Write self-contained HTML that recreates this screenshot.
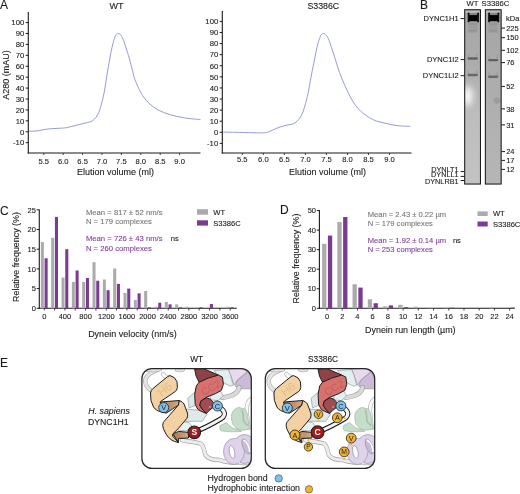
<!DOCTYPE html>
<html><head><meta charset="utf-8"><style>
html,body{margin:0;padding:0;background:#fff;}
svg{display:block;font-family:"Liberation Sans", sans-serif;filter:blur(0.3px);}
text{stroke-width:0.1px;}
</style></head><body>
<svg width="520" height="494" viewBox="0 0 520 494">
<defs><linearGradient id="g1" x1="0" y1="0" x2="0" y2="1">
<stop offset="0" stop-color="#a6a6a6"/><stop offset="0.3" stop-color="#acacac"/><stop offset="0.6" stop-color="#bdbdbd"/><stop offset="1" stop-color="#c3c3c3"/></linearGradient>
<linearGradient id="g2" x1="0" y1="0" x2="0" y2="1">
<stop offset="0" stop-color="#a4a4a4"/><stop offset="0.3" stop-color="#aaaaaa"/><stop offset="0.7" stop-color="#b2b2b2"/><stop offset="1" stop-color="#b6b6b6"/></linearGradient>
<filter id="bl1" x="-50%" y="-50%" width="200%" height="200%"><feGaussianBlur stdDeviation="0.7"/></filter>
<filter id="bl2" x="-80%" y="-80%" width="260%" height="260%"><feGaussianBlur stdDeviation="3.2"/></filter>
<filter id="bl3" x="-50%" y="-50%" width="200%" height="200%"><feGaussianBlur stdDeviation="0.45"/></filter>
<clipPath id="c1"><rect x="464.7" y="9.8" width="15.8" height="174.4"/></clipPath>
<clipPath id="c2"><rect x="485.3" y="9.8" width="15.9" height="174.4"/></clipPath><linearGradient id="hb" x1="0" y1="0" x2="1" y2="0"><stop offset="0" stop-color="#a27655"/><stop offset="1" stop-color="#d9ab82"/></linearGradient><clipPath id="ebox"><rect x="142.0" y="368.7" width="109.2" height="99.6" rx="9.8"/></clipPath></defs>
<rect width="520" height="494" fill="#fff"/>
<text x="0.10" y="8.60" font-size="12" text-anchor="start" fill="#1a1a1a" stroke="#1a1a1a" >A</text>
<line x1="28.30" y1="12.00" x2="28.30" y2="153.50" stroke="#1a1a1a" stroke-width="1.1"/>
<line x1="27.75" y1="153.00" x2="200.50" y2="153.00" stroke="#1a1a1a" stroke-width="1.1"/>
<line x1="25.70" y1="142.66" x2="28.30" y2="142.66" stroke="#1a1a1a" stroke-width="1"/>
<text x="24.20" y="145.41" font-size="7.7" text-anchor="end" fill="#1a1a1a" stroke="#1a1a1a" >-10</text>
<line x1="25.70" y1="131.75" x2="28.30" y2="131.75" stroke="#1a1a1a" stroke-width="1"/>
<text x="24.20" y="134.50" font-size="7.7" text-anchor="end" fill="#1a1a1a" stroke="#1a1a1a" >0</text>
<line x1="25.70" y1="120.84" x2="28.30" y2="120.84" stroke="#1a1a1a" stroke-width="1"/>
<text x="24.20" y="123.59" font-size="7.7" text-anchor="end" fill="#1a1a1a" stroke="#1a1a1a" >10</text>
<line x1="25.70" y1="109.92" x2="28.30" y2="109.92" stroke="#1a1a1a" stroke-width="1"/>
<text x="24.20" y="112.67" font-size="7.7" text-anchor="end" fill="#1a1a1a" stroke="#1a1a1a" >20</text>
<line x1="25.70" y1="99.00" x2="28.30" y2="99.00" stroke="#1a1a1a" stroke-width="1"/>
<text x="24.20" y="101.75" font-size="7.7" text-anchor="end" fill="#1a1a1a" stroke="#1a1a1a" >30</text>
<line x1="25.70" y1="88.09" x2="28.30" y2="88.09" stroke="#1a1a1a" stroke-width="1"/>
<text x="24.20" y="90.84" font-size="7.7" text-anchor="end" fill="#1a1a1a" stroke="#1a1a1a" >40</text>
<line x1="25.70" y1="77.18" x2="28.30" y2="77.18" stroke="#1a1a1a" stroke-width="1"/>
<text x="24.20" y="79.93" font-size="7.7" text-anchor="end" fill="#1a1a1a" stroke="#1a1a1a" >50</text>
<line x1="25.70" y1="66.26" x2="28.30" y2="66.26" stroke="#1a1a1a" stroke-width="1"/>
<text x="24.20" y="69.01" font-size="7.7" text-anchor="end" fill="#1a1a1a" stroke="#1a1a1a" >60</text>
<line x1="25.70" y1="55.34" x2="28.30" y2="55.34" stroke="#1a1a1a" stroke-width="1"/>
<text x="24.20" y="58.09" font-size="7.7" text-anchor="end" fill="#1a1a1a" stroke="#1a1a1a" >70</text>
<line x1="25.70" y1="44.43" x2="28.30" y2="44.43" stroke="#1a1a1a" stroke-width="1"/>
<text x="24.20" y="47.18" font-size="7.7" text-anchor="end" fill="#1a1a1a" stroke="#1a1a1a" >80</text>
<line x1="25.70" y1="33.52" x2="28.30" y2="33.52" stroke="#1a1a1a" stroke-width="1"/>
<text x="24.20" y="36.27" font-size="7.7" text-anchor="end" fill="#1a1a1a" stroke="#1a1a1a" >90</text>
<line x1="25.70" y1="22.60" x2="28.30" y2="22.60" stroke="#1a1a1a" stroke-width="1"/>
<text x="24.20" y="25.35" font-size="7.7" text-anchor="end" fill="#1a1a1a" stroke="#1a1a1a" >100</text>
<line x1="43.80" y1="153.00" x2="43.80" y2="155.00" stroke="#1a1a1a" stroke-width="0.8"/>
<text x="43.80" y="163.80" font-size="7.6" text-anchor="middle" fill="#1a1a1a" stroke="#1a1a1a" >5.5</text>
<line x1="63.20" y1="153.00" x2="63.20" y2="155.00" stroke="#1a1a1a" stroke-width="0.8"/>
<text x="63.20" y="163.80" font-size="7.6" text-anchor="middle" fill="#1a1a1a" stroke="#1a1a1a" >6.0</text>
<line x1="82.60" y1="153.00" x2="82.60" y2="155.00" stroke="#1a1a1a" stroke-width="0.8"/>
<text x="82.60" y="163.80" font-size="7.6" text-anchor="middle" fill="#1a1a1a" stroke="#1a1a1a" >6.5</text>
<line x1="102.00" y1="153.00" x2="102.00" y2="155.00" stroke="#1a1a1a" stroke-width="0.8"/>
<text x="102.00" y="163.80" font-size="7.6" text-anchor="middle" fill="#1a1a1a" stroke="#1a1a1a" >7.0</text>
<line x1="121.40" y1="153.00" x2="121.40" y2="155.00" stroke="#1a1a1a" stroke-width="0.8"/>
<text x="121.40" y="163.80" font-size="7.6" text-anchor="middle" fill="#1a1a1a" stroke="#1a1a1a" >7.5</text>
<line x1="140.80" y1="153.00" x2="140.80" y2="155.00" stroke="#1a1a1a" stroke-width="0.8"/>
<text x="140.80" y="163.80" font-size="7.6" text-anchor="middle" fill="#1a1a1a" stroke="#1a1a1a" >8.0</text>
<line x1="160.20" y1="153.00" x2="160.20" y2="155.00" stroke="#1a1a1a" stroke-width="0.8"/>
<text x="160.20" y="163.80" font-size="7.6" text-anchor="middle" fill="#1a1a1a" stroke="#1a1a1a" >8.5</text>
<line x1="179.60" y1="153.00" x2="179.60" y2="155.00" stroke="#1a1a1a" stroke-width="0.8"/>
<text x="179.60" y="163.80" font-size="7.6" text-anchor="middle" fill="#1a1a1a" stroke="#1a1a1a" >9.0</text>
<text x="116.50" y="8.50" font-size="9.0" text-anchor="middle" fill="#1a1a1a" stroke="#1a1a1a" >WT</text>
<text x="115.40" y="174.90" font-size="9.0" text-anchor="middle" fill="#1a1a1a" stroke="#1a1a1a" >Elution volume (ml)</text>
<path d="M28.60,131.30 C29.85,131.25 33.70,131.25 36.10,131.00 C38.50,130.75 40.50,130.18 43.00,129.80 C45.50,129.42 47.83,128.98 51.10,128.70 C54.37,128.42 59.92,128.30 62.60,128.10 C65.28,127.90 65.28,127.88 67.20,127.50 C69.12,127.12 71.60,126.42 74.10,125.80 C76.60,125.18 79.70,124.42 82.20,123.80 C84.70,123.18 87.33,122.65 89.10,122.10 C90.87,121.55 91.65,121.30 92.80,120.50 C93.95,119.70 95.02,118.58 96.00,117.30 C96.98,116.02 97.95,114.47 98.70,112.80 C99.45,111.13 99.90,109.28 100.50,107.30 C101.10,105.32 101.62,103.78 102.30,100.90 C102.98,98.02 103.77,94.65 104.60,90.00 C105.43,85.35 106.55,77.57 107.30,73.00 C108.05,68.43 108.50,66.00 109.10,62.60 C109.70,59.20 110.22,55.93 110.90,52.60 C111.58,49.27 112.43,45.42 113.20,42.60 C113.97,39.78 114.67,37.22 115.50,35.70 C116.33,34.18 117.28,33.57 118.20,33.50 C119.12,33.43 120.08,34.08 121.00,35.30 C121.92,36.52 122.80,38.52 123.70,40.80 C124.60,43.08 125.48,46.12 126.40,49.00 C127.32,51.88 128.13,54.30 129.20,58.10 C130.27,61.90 131.85,68.23 132.80,71.80 C133.75,75.37 133.53,75.98 134.90,79.50 C136.27,83.02 138.77,89.05 141.00,92.90 C143.23,96.75 145.47,99.77 148.30,102.60 C151.13,105.43 154.35,107.88 158.00,109.90 C161.65,111.92 165.75,113.37 170.20,114.70 C174.65,116.03 179.65,117.08 184.70,117.90 C189.75,118.72 197.87,119.32 200.50,119.60" fill="none" stroke="#959cd4" stroke-width="1.0" stroke-linejoin="round"/>
<line x1="222.30" y1="11.10" x2="222.30" y2="153.50" stroke="#1a1a1a" stroke-width="1.1"/>
<line x1="221.75" y1="153.00" x2="411.50" y2="153.00" stroke="#1a1a1a" stroke-width="1.1"/>
<line x1="219.70" y1="143.39" x2="222.30" y2="143.39" stroke="#1a1a1a" stroke-width="1"/>
<text x="218.20" y="146.14" font-size="7.7" text-anchor="end" fill="#1a1a1a" stroke="#1a1a1a" >-10</text>
<line x1="219.70" y1="132.30" x2="222.30" y2="132.30" stroke="#1a1a1a" stroke-width="1"/>
<text x="218.20" y="135.05" font-size="7.7" text-anchor="end" fill="#1a1a1a" stroke="#1a1a1a" >0</text>
<line x1="219.70" y1="121.21" x2="222.30" y2="121.21" stroke="#1a1a1a" stroke-width="1"/>
<text x="218.20" y="123.96" font-size="7.7" text-anchor="end" fill="#1a1a1a" stroke="#1a1a1a" >10</text>
<line x1="219.70" y1="110.12" x2="222.30" y2="110.12" stroke="#1a1a1a" stroke-width="1"/>
<text x="218.20" y="112.87" font-size="7.7" text-anchor="end" fill="#1a1a1a" stroke="#1a1a1a" >20</text>
<line x1="219.70" y1="99.03" x2="222.30" y2="99.03" stroke="#1a1a1a" stroke-width="1"/>
<text x="218.20" y="101.78" font-size="7.7" text-anchor="end" fill="#1a1a1a" stroke="#1a1a1a" >30</text>
<line x1="219.70" y1="87.94" x2="222.30" y2="87.94" stroke="#1a1a1a" stroke-width="1"/>
<text x="218.20" y="90.69" font-size="7.7" text-anchor="end" fill="#1a1a1a" stroke="#1a1a1a" >40</text>
<line x1="219.70" y1="76.85" x2="222.30" y2="76.85" stroke="#1a1a1a" stroke-width="1"/>
<text x="218.20" y="79.60" font-size="7.7" text-anchor="end" fill="#1a1a1a" stroke="#1a1a1a" >50</text>
<line x1="219.70" y1="65.76" x2="222.30" y2="65.76" stroke="#1a1a1a" stroke-width="1"/>
<text x="218.20" y="68.51" font-size="7.7" text-anchor="end" fill="#1a1a1a" stroke="#1a1a1a" >60</text>
<line x1="219.70" y1="54.67" x2="222.30" y2="54.67" stroke="#1a1a1a" stroke-width="1"/>
<text x="218.20" y="57.42" font-size="7.7" text-anchor="end" fill="#1a1a1a" stroke="#1a1a1a" >70</text>
<line x1="219.70" y1="43.58" x2="222.30" y2="43.58" stroke="#1a1a1a" stroke-width="1"/>
<text x="218.20" y="46.33" font-size="7.7" text-anchor="end" fill="#1a1a1a" stroke="#1a1a1a" >80</text>
<line x1="219.70" y1="32.49" x2="222.30" y2="32.49" stroke="#1a1a1a" stroke-width="1"/>
<text x="218.20" y="35.24" font-size="7.7" text-anchor="end" fill="#1a1a1a" stroke="#1a1a1a" >90</text>
<line x1="219.70" y1="21.40" x2="222.30" y2="21.40" stroke="#1a1a1a" stroke-width="1"/>
<text x="218.20" y="24.15" font-size="7.7" text-anchor="end" fill="#1a1a1a" stroke="#1a1a1a" >100</text>
<line x1="242.30" y1="153.00" x2="242.30" y2="155.00" stroke="#1a1a1a" stroke-width="0.8"/>
<text x="242.30" y="162.40" font-size="7.6" text-anchor="middle" fill="#1a1a1a" stroke="#1a1a1a" >5.5</text>
<line x1="263.34" y1="153.00" x2="263.34" y2="155.00" stroke="#1a1a1a" stroke-width="0.8"/>
<text x="263.34" y="162.40" font-size="7.6" text-anchor="middle" fill="#1a1a1a" stroke="#1a1a1a" >6.0</text>
<line x1="284.37" y1="153.00" x2="284.37" y2="155.00" stroke="#1a1a1a" stroke-width="0.8"/>
<text x="284.37" y="162.40" font-size="7.6" text-anchor="middle" fill="#1a1a1a" stroke="#1a1a1a" >6.5</text>
<line x1="305.41" y1="153.00" x2="305.41" y2="155.00" stroke="#1a1a1a" stroke-width="0.8"/>
<text x="305.41" y="162.40" font-size="7.6" text-anchor="middle" fill="#1a1a1a" stroke="#1a1a1a" >7.0</text>
<line x1="326.44" y1="153.00" x2="326.44" y2="155.00" stroke="#1a1a1a" stroke-width="0.8"/>
<text x="326.44" y="162.40" font-size="7.6" text-anchor="middle" fill="#1a1a1a" stroke="#1a1a1a" >7.5</text>
<line x1="347.48" y1="153.00" x2="347.48" y2="155.00" stroke="#1a1a1a" stroke-width="0.8"/>
<text x="347.48" y="162.40" font-size="7.6" text-anchor="middle" fill="#1a1a1a" stroke="#1a1a1a" >8.0</text>
<line x1="368.51" y1="153.00" x2="368.51" y2="155.00" stroke="#1a1a1a" stroke-width="0.8"/>
<text x="368.51" y="162.40" font-size="7.6" text-anchor="middle" fill="#1a1a1a" stroke="#1a1a1a" >8.5</text>
<line x1="389.55" y1="153.00" x2="389.55" y2="155.00" stroke="#1a1a1a" stroke-width="0.8"/>
<text x="389.55" y="162.40" font-size="7.6" text-anchor="middle" fill="#1a1a1a" stroke="#1a1a1a" >9.0</text>
<text x="323.30" y="9.10" font-size="8.8" text-anchor="middle" fill="#1a1a1a" stroke="#1a1a1a" >S3386C</text>
<text x="327.50" y="174.90" font-size="9.0" text-anchor="middle" fill="#1a1a1a" stroke="#1a1a1a" >Elution volume (ml)</text>
<path d="M222.80,132.10 C225.55,132.15 233.67,132.28 239.30,132.40 C244.93,132.52 252.37,132.73 256.60,132.80 C260.83,132.87 262.78,132.92 264.70,132.80 C266.62,132.68 266.57,132.65 268.10,132.10 C269.63,131.55 271.83,130.37 273.90,129.50 C275.97,128.63 278.33,127.63 280.50,126.90 C282.67,126.17 284.93,125.55 286.90,125.10 C288.87,124.65 290.63,124.82 292.30,124.20 C293.97,123.58 295.53,122.62 296.90,121.40 C298.27,120.18 299.43,118.63 300.50,116.90 C301.57,115.17 302.47,113.20 303.30,111.00 C304.13,108.80 304.82,106.13 305.50,103.70 C306.18,101.27 306.87,98.68 307.40,96.40 C307.93,94.12 307.97,93.90 308.70,90.00 C309.43,86.10 310.97,77.40 311.80,73.00 C312.63,68.60 313.02,67.00 313.70,63.60 C314.38,60.20 315.15,56.10 315.90,52.60 C316.65,49.10 317.35,45.48 318.20,42.60 C319.05,39.72 320.08,36.82 321.00,35.30 C321.92,33.78 322.80,33.50 323.70,33.50 C324.60,33.50 325.48,34.08 326.40,35.30 C327.32,36.52 328.22,38.37 329.20,40.80 C330.18,43.23 331.25,46.72 332.30,49.90 C333.35,53.08 334.28,56.10 335.50,59.90 C336.72,63.70 338.03,68.42 339.60,72.70 C341.17,76.98 342.80,81.02 344.90,85.60 C347.00,90.18 349.57,95.95 352.20,100.20 C354.83,104.45 357.25,107.87 360.70,111.10 C364.15,114.33 368.85,117.58 372.90,119.60 C376.95,121.62 380.95,122.20 385.00,123.20 C389.05,124.20 392.95,125.07 397.20,125.60 C401.45,126.13 408.28,126.27 410.50,126.40" fill="none" stroke="#959cd4" stroke-width="1.0" stroke-linejoin="round"/>
<text x="8.70" y="75.05" font-size="9.0" text-anchor="middle" fill="#1a1a1a" stroke="#1a1a1a" transform="rotate(-90 8.7 75.05)">A280 (mAU)</text>
<text x="419.90" y="9.00" font-size="12" text-anchor="start" fill="#1a1a1a" stroke="#1a1a1a" >B</text>
<text x="472.60" y="5.60" font-size="7.7" text-anchor="middle" fill="#1a1a1a" stroke="#1a1a1a" >WT</text>
<text x="495.40" y="5.60" font-size="7.7" text-anchor="middle" fill="#1a1a1a" stroke="#1a1a1a" >S3386C</text>
<rect x="464.70" y="9.75" width="15.75" height="174.3" fill="url(#g1)"/>
<g clip-path="url(#c1)">
<ellipse cx="467.45" cy="96" rx="5" ry="10" fill="#fafafa" filter="url(#bl2)"/>
<rect x="464.25" y="9" width="16.649999999999977" height="4" fill="#b8b8b8"/>
<rect x="467.8" y="20" width="9.799999999999988" height="13" fill="#9e9e9e" filter="url(#bl1)"/>
<rect x="468.6" y="23.5" width="8.199999999999989" height="1.2" fill="#929292" filter="url(#bl3)"/>
<rect x="468.6" y="30.2" width="8.199999999999989" height="1.2" fill="#8e8e8e" filter="url(#bl3)"/>
<g filter="url(#bl3)"><rect x="468.00000000000006" y="12.9" width="10.599999999999989" height="3" fill="#858585"/><rect x="468.00000000000006" y="15.1" width="10.599999999999989" height="6.1" fill="#050505"/><rect x="467.70000000000005" y="12.5" width="1.7" height="9.8" rx="0.85" fill="#080808"/><rect x="477.20000000000005" y="12.5" width="1.7" height="9.8" rx="0.85" fill="#080808"/></g>
<rect x="467.90" y="53.80" width="1.0" height="4.70" fill="#989898" filter="url(#bl3)"/><rect x="476.50" y="53.80" width="1.0" height="4.70" fill="#989898" filter="url(#bl3)"/><rect x="467.60" y="57.30" width="10.20" height="2.4" rx="1" fill="#626262" filter="url(#bl3)"/>
<rect x="467.90" y="70.30" width="1.0" height="4.70" fill="#989898" filter="url(#bl3)"/><rect x="476.50" y="70.30" width="1.0" height="4.70" fill="#989898" filter="url(#bl3)"/><rect x="467.60" y="73.80" width="10.20" height="2.4" rx="1" fill="#6a6a6a" filter="url(#bl3)"/>
</g>
<rect x="464.70" y="9.75" width="15.75" height="174.3" fill="none" stroke="#111" stroke-width="1"/>
<rect x="485.35" y="9.75" width="15.80" height="174.3" fill="url(#g2)"/>
<g clip-path="url(#c2)">
<circle cx="497" cy="100.6" r="3.2" fill="#9c9c9c" filter="url(#bl1)"/>
<rect x="484.9" y="9" width="16.700000000000045" height="4" fill="#b8b8b8"/>
<rect x="488.4" y="20" width="9.500000000000034" height="13" fill="#9e9e9e" filter="url(#bl1)"/>
<rect x="489.2" y="23.5" width="7.900000000000034" height="1.2" fill="#929292" filter="url(#bl3)"/>
<rect x="489.2" y="30.2" width="7.900000000000034" height="1.2" fill="#8e8e8e" filter="url(#bl3)"/>
<g filter="url(#bl3)"><rect x="488.6" y="12.9" width="10.300000000000034" height="3" fill="#858585"/><rect x="488.6" y="15.1" width="10.300000000000034" height="6.1" fill="#050505"/><rect x="488.3" y="12.5" width="1.7" height="9.8" rx="0.85" fill="#080808"/><rect x="497.50000000000006" y="12.5" width="1.7" height="9.8" rx="0.85" fill="#080808"/></g>
<rect x="488.50" y="55.40" width="1.0" height="4.70" fill="#989898" filter="url(#bl3)"/><rect x="496.80" y="55.40" width="1.0" height="4.70" fill="#989898" filter="url(#bl3)"/><rect x="488.20" y="58.90" width="9.90" height="2.4" rx="1" fill="#626262" filter="url(#bl3)"/>
<rect x="488.50" y="72.10" width="1.0" height="4.70" fill="#989898" filter="url(#bl3)"/><rect x="496.80" y="72.10" width="1.0" height="4.70" fill="#989898" filter="url(#bl3)"/><rect x="488.20" y="75.60" width="9.90" height="2.4" rx="1" fill="#6a6a6a" filter="url(#bl3)"/>
</g>
<rect x="485.35" y="9.75" width="15.80" height="174.3" fill="none" stroke="#111" stroke-width="1"/>
<text x="458.60" y="21.30" font-size="7.5" text-anchor="end" fill="#1a1a1a" stroke="#1a1a1a" >DYNC1H1</text>
<line x1="460.60" y1="18.60" x2="464.40" y2="18.60" stroke="#1a1a1a" stroke-width="1"/>
<text x="458.60" y="62.30" font-size="7.5" text-anchor="end" fill="#1a1a1a" stroke="#1a1a1a" >DYNC1I2</text>
<line x1="460.60" y1="59.60" x2="464.40" y2="59.60" stroke="#1a1a1a" stroke-width="1"/>
<text x="458.60" y="78.40" font-size="7.5" text-anchor="end" fill="#1a1a1a" stroke="#1a1a1a" >DYNC1LI2</text>
<line x1="460.60" y1="75.70" x2="464.40" y2="75.70" stroke="#1a1a1a" stroke-width="1"/>
<text x="458.60" y="171.50" font-size="7.3" text-anchor="end" fill="#1a1a1a" stroke="#1a1a1a" >DYNLT1</text>
<line x1="460.60" y1="171.60" x2="464.40" y2="171.60" stroke="#1a1a1a" stroke-width="1"/>
<text x="458.60" y="177.20" font-size="7.3" text-anchor="end" fill="#1a1a1a" stroke="#1a1a1a" >DYNLL1</text>
<line x1="460.60" y1="176.40" x2="464.40" y2="176.40" stroke="#1a1a1a" stroke-width="1"/>
<text x="458.60" y="183.50" font-size="7.3" text-anchor="end" fill="#1a1a1a" stroke="#1a1a1a" >DYNLRB1</text>
<line x1="460.60" y1="180.50" x2="464.40" y2="180.50" stroke="#1a1a1a" stroke-width="1"/>
<text x="506.00" y="21.30" font-size="7.5" text-anchor="start" fill="#1a1a1a" stroke="#1a1a1a" >kDa</text>
<line x1="501.40" y1="28.10" x2="505.00" y2="28.10" stroke="#1a1a1a" stroke-width="1"/>
<text x="506.20" y="30.80" font-size="7.5" text-anchor="start" fill="#1a1a1a" stroke="#1a1a1a" >225</text>
<line x1="501.40" y1="37.70" x2="505.00" y2="37.70" stroke="#1a1a1a" stroke-width="1"/>
<text x="506.20" y="40.40" font-size="7.5" text-anchor="start" fill="#1a1a1a" stroke="#1a1a1a" >150</text>
<line x1="501.40" y1="50.30" x2="505.00" y2="50.30" stroke="#1a1a1a" stroke-width="1"/>
<text x="506.20" y="53.00" font-size="7.5" text-anchor="start" fill="#1a1a1a" stroke="#1a1a1a" >102</text>
<line x1="501.40" y1="62.60" x2="505.00" y2="62.60" stroke="#1a1a1a" stroke-width="1"/>
<text x="506.20" y="65.30" font-size="7.5" text-anchor="start" fill="#1a1a1a" stroke="#1a1a1a" >76</text>
<line x1="501.40" y1="86.40" x2="505.00" y2="86.40" stroke="#1a1a1a" stroke-width="1"/>
<text x="506.20" y="89.10" font-size="7.5" text-anchor="start" fill="#1a1a1a" stroke="#1a1a1a" >52</text>
<line x1="501.40" y1="108.90" x2="505.00" y2="108.90" stroke="#1a1a1a" stroke-width="1"/>
<text x="506.20" y="111.60" font-size="7.5" text-anchor="start" fill="#1a1a1a" stroke="#1a1a1a" >38</text>
<line x1="501.40" y1="124.90" x2="505.00" y2="124.90" stroke="#1a1a1a" stroke-width="1"/>
<text x="506.20" y="127.60" font-size="7.5" text-anchor="start" fill="#1a1a1a" stroke="#1a1a1a" >31</text>
<line x1="501.40" y1="151.60" x2="505.00" y2="151.60" stroke="#1a1a1a" stroke-width="1"/>
<text x="506.20" y="154.30" font-size="7.5" text-anchor="start" fill="#1a1a1a" stroke="#1a1a1a" >24</text>
<line x1="501.40" y1="160.40" x2="505.00" y2="160.40" stroke="#1a1a1a" stroke-width="1"/>
<text x="506.20" y="163.10" font-size="7.5" text-anchor="start" fill="#1a1a1a" stroke="#1a1a1a" >17</text>
<line x1="501.40" y1="169.40" x2="505.00" y2="169.40" stroke="#1a1a1a" stroke-width="1"/>
<text x="506.20" y="172.10" font-size="7.5" text-anchor="start" fill="#1a1a1a" stroke="#1a1a1a" >12</text>
<text x="0.10" y="214.70" font-size="12" text-anchor="start" fill="#1a1a1a" stroke="#1a1a1a" >C</text>
<line x1="39.30" y1="209.50" x2="39.30" y2="308.80" stroke="#1a1a1a" stroke-width="1.1"/>
<line x1="38.80" y1="308.30" x2="236.80" y2="308.30" stroke="#1a1a1a" stroke-width="1.1"/>
<line x1="36.70" y1="308.30" x2="39.30" y2="308.30" stroke="#1a1a1a" stroke-width="1"/>
<text x="35.90" y="311.00" font-size="7.5" text-anchor="end" fill="#1a1a1a" stroke="#1a1a1a" >0</text>
<line x1="36.70" y1="288.60" x2="39.30" y2="288.60" stroke="#1a1a1a" stroke-width="1"/>
<text x="35.90" y="291.30" font-size="7.5" text-anchor="end" fill="#1a1a1a" stroke="#1a1a1a" >5</text>
<line x1="36.70" y1="268.90" x2="39.30" y2="268.90" stroke="#1a1a1a" stroke-width="1"/>
<text x="35.90" y="271.60" font-size="7.5" text-anchor="end" fill="#1a1a1a" stroke="#1a1a1a" >10</text>
<line x1="36.70" y1="249.20" x2="39.30" y2="249.20" stroke="#1a1a1a" stroke-width="1"/>
<text x="35.90" y="251.90" font-size="7.5" text-anchor="end" fill="#1a1a1a" stroke="#1a1a1a" >15</text>
<line x1="36.70" y1="229.50" x2="39.30" y2="229.50" stroke="#1a1a1a" stroke-width="1"/>
<text x="35.90" y="232.20" font-size="7.5" text-anchor="end" fill="#1a1a1a" stroke="#1a1a1a" >20</text>
<line x1="36.70" y1="209.80" x2="39.30" y2="209.80" stroke="#1a1a1a" stroke-width="1"/>
<text x="35.90" y="212.50" font-size="7.5" text-anchor="end" fill="#1a1a1a" stroke="#1a1a1a" >25</text>
<rect x="40.85" y="242.11" width="3.05" height="66.19" fill="#ababab"/>
<rect x="44.60" y="258.26" width="3.05" height="50.04" fill="#7b3a93"/>
<line x1="44.25" y1="308.30" x2="44.25" y2="310.50" stroke="#1a1a1a" stroke-width="0.8"/>
<text x="44.25" y="319.00" font-size="7.5" text-anchor="middle" fill="#1a1a1a" stroke="#1a1a1a" >0</text>
<rect x="51.18" y="237.77" width="3.05" height="70.53" fill="#ababab"/>
<rect x="54.93" y="216.89" width="3.05" height="91.41" fill="#7b3a93"/>
<line x1="54.58" y1="308.30" x2="54.58" y2="310.50" stroke="#1a1a1a" stroke-width="0.8"/>
<rect x="61.51" y="277.57" width="3.05" height="30.73" fill="#ababab"/>
<rect x="65.26" y="249.20" width="3.05" height="59.10" fill="#7b3a93"/>
<line x1="64.91" y1="308.30" x2="64.91" y2="310.50" stroke="#1a1a1a" stroke-width="0.8"/>
<text x="64.91" y="319.00" font-size="7.5" text-anchor="middle" fill="#1a1a1a" stroke="#1a1a1a" >400</text>
<rect x="71.84" y="281.90" width="3.05" height="26.40" fill="#ababab"/>
<rect x="75.59" y="270.48" width="3.05" height="37.82" fill="#7b3a93"/>
<line x1="75.24" y1="308.30" x2="75.24" y2="310.50" stroke="#1a1a1a" stroke-width="0.8"/>
<rect x="82.17" y="281.90" width="3.05" height="26.40" fill="#ababab"/>
<rect x="85.92" y="277.96" width="3.05" height="30.34" fill="#7b3a93"/>
<line x1="85.57" y1="308.30" x2="85.57" y2="310.50" stroke="#1a1a1a" stroke-width="0.8"/>
<text x="85.57" y="319.00" font-size="7.5" text-anchor="middle" fill="#1a1a1a" stroke="#1a1a1a" >800</text>
<rect x="92.50" y="262.20" width="3.05" height="46.10" fill="#ababab"/>
<rect x="96.25" y="280.72" width="3.05" height="27.58" fill="#7b3a93"/>
<line x1="95.90" y1="308.30" x2="95.90" y2="310.50" stroke="#1a1a1a" stroke-width="0.8"/>
<rect x="102.83" y="279.54" width="3.05" height="28.76" fill="#ababab"/>
<rect x="106.58" y="290.18" width="3.05" height="18.12" fill="#7b3a93"/>
<line x1="106.23" y1="308.30" x2="106.23" y2="310.50" stroke="#1a1a1a" stroke-width="0.8"/>
<text x="106.23" y="319.00" font-size="7.5" text-anchor="middle" fill="#1a1a1a" stroke="#1a1a1a" >1200</text>
<rect x="113.16" y="268.51" width="3.05" height="39.79" fill="#ababab"/>
<rect x="116.91" y="283.87" width="3.05" height="24.43" fill="#7b3a93"/>
<line x1="116.56" y1="308.30" x2="116.56" y2="310.50" stroke="#1a1a1a" stroke-width="0.8"/>
<rect x="123.49" y="292.93" width="3.05" height="15.37" fill="#ababab"/>
<rect x="127.24" y="288.60" width="3.05" height="19.70" fill="#7b3a93"/>
<line x1="126.89" y1="308.30" x2="126.89" y2="310.50" stroke="#1a1a1a" stroke-width="0.8"/>
<text x="126.89" y="319.00" font-size="7.5" text-anchor="middle" fill="#1a1a1a" stroke="#1a1a1a" >1600</text>
<rect x="133.82" y="300.03" width="3.05" height="8.27" fill="#ababab"/>
<rect x="137.57" y="293.33" width="3.05" height="14.97" fill="#7b3a93"/>
<line x1="137.22" y1="308.30" x2="137.22" y2="310.50" stroke="#1a1a1a" stroke-width="0.8"/>
<rect x="144.15" y="290.96" width="3.05" height="17.34" fill="#ababab"/>
<rect x="147.90" y="307.31" width="3.05" height="0.98" fill="#7b3a93"/>
<line x1="147.55" y1="308.30" x2="147.55" y2="310.50" stroke="#1a1a1a" stroke-width="0.8"/>
<text x="147.55" y="319.00" font-size="7.5" text-anchor="middle" fill="#1a1a1a" stroke="#1a1a1a" >2000</text>
<rect x="154.48" y="306.72" width="3.05" height="1.58" fill="#ababab"/>
<rect x="158.23" y="302.78" width="3.05" height="5.52" fill="#7b3a93"/>
<line x1="157.88" y1="308.30" x2="157.88" y2="310.50" stroke="#1a1a1a" stroke-width="0.8"/>
<rect x="164.81" y="302.00" width="3.05" height="6.30" fill="#ababab"/>
<rect x="168.56" y="304.36" width="3.05" height="3.94" fill="#7b3a93"/>
<line x1="168.21" y1="308.30" x2="168.21" y2="310.50" stroke="#1a1a1a" stroke-width="0.8"/>
<text x="168.21" y="319.00" font-size="7.5" text-anchor="middle" fill="#1a1a1a" stroke="#1a1a1a" >2400</text>
<rect x="175.14" y="304.36" width="3.05" height="3.94" fill="#ababab"/>
<rect x="178.89" y="307.31" width="3.05" height="0.98" fill="#7b3a93"/>
<line x1="178.54" y1="308.30" x2="178.54" y2="310.50" stroke="#1a1a1a" stroke-width="0.8"/>
<rect x="185.47" y="306.72" width="3.05" height="1.58" fill="#ababab"/>
<line x1="188.87" y1="308.30" x2="188.87" y2="310.50" stroke="#1a1a1a" stroke-width="0.8"/>
<text x="188.87" y="319.00" font-size="7.5" text-anchor="middle" fill="#1a1a1a" stroke="#1a1a1a" >2800</text>
<rect x="199.55" y="307.31" width="3.05" height="0.98" fill="#7b3a93"/>
<line x1="199.20" y1="308.30" x2="199.20" y2="310.50" stroke="#1a1a1a" stroke-width="0.8"/>
<rect x="209.88" y="303.97" width="3.05" height="4.33" fill="#7b3a93"/>
<line x1="209.53" y1="308.30" x2="209.53" y2="310.50" stroke="#1a1a1a" stroke-width="0.8"/>
<text x="209.53" y="319.00" font-size="7.5" text-anchor="middle" fill="#1a1a1a" stroke="#1a1a1a" >3200</text>
<line x1="219.86" y1="308.30" x2="219.86" y2="310.50" stroke="#1a1a1a" stroke-width="0.8"/>
<rect x="226.79" y="306.72" width="3.05" height="1.58" fill="#ababab"/>
<rect x="230.54" y="307.31" width="3.05" height="0.98" fill="#7b3a93"/>
<line x1="230.19" y1="308.30" x2="230.19" y2="310.50" stroke="#1a1a1a" stroke-width="0.8"/>
<text x="230.19" y="319.00" font-size="7.5" text-anchor="middle" fill="#1a1a1a" stroke="#1a1a1a" >3600</text>
<text x="132.40" y="336.50" font-size="9.0" text-anchor="middle" fill="#1a1a1a" stroke="#1a1a1a" >Dynein velocity (nm/s)</text>
<text x="19.20" y="257.00" font-size="8.9" text-anchor="middle" fill="#1a1a1a" stroke="#1a1a1a" transform="rotate(-90 19.2 257)">Relative frequency (%)</text>
<text x="85.90" y="215.20" font-size="7.7" text-anchor="start" fill="#767676" stroke="#767676" >Mean = 817 ± 52 nm/s</text>
<text x="85.90" y="224.40" font-size="7.7" text-anchor="start" fill="#767676" stroke="#767676" >N = 179 complexes</text>
<text x="85.90" y="241.40" font-size="7.7" text-anchor="start" fill="#80409a" stroke="#80409a" >Mean = 726 ± 43 nm/s</text>
<text x="85.90" y="250.60" font-size="7.7" text-anchor="start" fill="#80409a" stroke="#80409a" >N = 260 complexes</text>
<text x="170.80" y="241.40" font-size="7.6" text-anchor="start" fill="#1a1a1a" stroke="#1a1a1a" >ns</text>
<rect x="197.00" y="209.20" width="11.00" height="5.50" fill="#ababab"/>
<rect x="197.00" y="220.30" width="11.00" height="5.30" fill="#7b3a93"/>
<text x="213.30" y="214.50" font-size="7.6" text-anchor="start" fill="#1a1a1a" stroke="#1a1a1a" >WT</text>
<text x="213.30" y="226.10" font-size="7.6" text-anchor="start" fill="#1a1a1a" stroke="#1a1a1a" >S3386C</text>
<text x="280.10" y="213.60" font-size="12" text-anchor="start" fill="#1a1a1a" stroke="#1a1a1a" >D</text>
<line x1="319.40" y1="210.00" x2="319.40" y2="308.80" stroke="#1a1a1a" stroke-width="1.1"/>
<line x1="318.90" y1="308.30" x2="514.80" y2="308.30" stroke="#1a1a1a" stroke-width="1.1"/>
<line x1="316.80" y1="308.30" x2="319.40" y2="308.30" stroke="#1a1a1a" stroke-width="1"/>
<text x="316.00" y="311.00" font-size="7.5" text-anchor="end" fill="#1a1a1a" stroke="#1a1a1a" >0</text>
<line x1="316.80" y1="288.75" x2="319.40" y2="288.75" stroke="#1a1a1a" stroke-width="1"/>
<text x="316.00" y="291.45" font-size="7.5" text-anchor="end" fill="#1a1a1a" stroke="#1a1a1a" >10</text>
<line x1="316.80" y1="269.20" x2="319.40" y2="269.20" stroke="#1a1a1a" stroke-width="1"/>
<text x="316.00" y="271.90" font-size="7.5" text-anchor="end" fill="#1a1a1a" stroke="#1a1a1a" >20</text>
<line x1="316.80" y1="249.65" x2="319.40" y2="249.65" stroke="#1a1a1a" stroke-width="1"/>
<text x="316.00" y="252.35" font-size="7.5" text-anchor="end" fill="#1a1a1a" stroke="#1a1a1a" >30</text>
<line x1="316.80" y1="230.10" x2="319.40" y2="230.10" stroke="#1a1a1a" stroke-width="1"/>
<text x="316.00" y="232.80" font-size="7.5" text-anchor="end" fill="#1a1a1a" stroke="#1a1a1a" >40</text>
<line x1="316.80" y1="210.55" x2="319.40" y2="210.55" stroke="#1a1a1a" stroke-width="1"/>
<text x="316.00" y="213.25" font-size="7.5" text-anchor="end" fill="#1a1a1a" stroke="#1a1a1a" >50</text>
<rect x="322.10" y="243.79" width="4.30" height="64.52" fill="#ababab"/>
<rect x="327.90" y="235.57" width="4.30" height="72.73" fill="#7b3a93"/>
<line x1="327.00" y1="308.30" x2="327.00" y2="310.50" stroke="#1a1a1a" stroke-width="0.8"/>
<text x="327.00" y="319.00" font-size="7.5" text-anchor="middle" fill="#1a1a1a" stroke="#1a1a1a" >0</text>
<rect x="337.32" y="222.08" width="4.30" height="86.22" fill="#ababab"/>
<rect x="343.12" y="217.00" width="4.30" height="91.30" fill="#7b3a93"/>
<line x1="342.22" y1="308.30" x2="342.22" y2="310.50" stroke="#1a1a1a" stroke-width="0.8"/>
<text x="342.22" y="319.00" font-size="7.5" text-anchor="middle" fill="#1a1a1a" stroke="#1a1a1a" >2</text>
<rect x="352.54" y="284.25" width="4.30" height="24.05" fill="#ababab"/>
<rect x="358.34" y="287.58" width="4.30" height="20.72" fill="#7b3a93"/>
<line x1="357.44" y1="308.30" x2="357.44" y2="310.50" stroke="#1a1a1a" stroke-width="0.8"/>
<text x="357.44" y="319.00" font-size="7.5" text-anchor="middle" fill="#1a1a1a" stroke="#1a1a1a" >4</text>
<rect x="367.76" y="299.31" width="4.30" height="8.99" fill="#ababab"/>
<rect x="373.56" y="303.22" width="4.30" height="5.08" fill="#7b3a93"/>
<line x1="372.66" y1="308.30" x2="372.66" y2="310.50" stroke="#1a1a1a" stroke-width="0.8"/>
<text x="372.66" y="319.00" font-size="7.5" text-anchor="middle" fill="#1a1a1a" stroke="#1a1a1a" >6</text>
<rect x="382.98" y="306.35" width="4.30" height="1.96" fill="#ababab"/>
<rect x="388.78" y="305.37" width="4.30" height="2.93" fill="#7b3a93"/>
<line x1="387.88" y1="308.30" x2="387.88" y2="310.50" stroke="#1a1a1a" stroke-width="0.8"/>
<text x="387.88" y="319.00" font-size="7.5" text-anchor="middle" fill="#1a1a1a" stroke="#1a1a1a" >8</text>
<rect x="398.20" y="304.78" width="4.30" height="3.52" fill="#ababab"/>
<rect x="404.00" y="307.13" width="4.30" height="1.17" fill="#7b3a93"/>
<line x1="403.10" y1="308.30" x2="403.10" y2="310.50" stroke="#1a1a1a" stroke-width="0.8"/>
<text x="403.10" y="319.00" font-size="7.5" text-anchor="middle" fill="#1a1a1a" stroke="#1a1a1a" >10</text>
<rect x="413.42" y="306.74" width="4.30" height="1.56" fill="#ababab"/>
<line x1="418.32" y1="308.30" x2="418.32" y2="310.50" stroke="#1a1a1a" stroke-width="0.8"/>
<text x="418.32" y="319.00" font-size="7.5" text-anchor="middle" fill="#1a1a1a" stroke="#1a1a1a" >12</text>
<rect x="428.64" y="307.71" width="4.30" height="0.59" fill="#ababab"/>
<line x1="433.54" y1="308.30" x2="433.54" y2="310.50" stroke="#1a1a1a" stroke-width="0.8"/>
<text x="433.54" y="319.00" font-size="7.5" text-anchor="middle" fill="#1a1a1a" stroke="#1a1a1a" >14</text>
<rect x="443.86" y="307.71" width="4.30" height="0.59" fill="#ababab"/>
<rect x="449.66" y="307.71" width="4.30" height="0.59" fill="#7b3a93"/>
<line x1="448.76" y1="308.30" x2="448.76" y2="310.50" stroke="#1a1a1a" stroke-width="0.8"/>
<text x="448.76" y="319.00" font-size="7.5" text-anchor="middle" fill="#1a1a1a" stroke="#1a1a1a" >16</text>
<line x1="463.98" y1="308.30" x2="463.98" y2="310.50" stroke="#1a1a1a" stroke-width="0.8"/>
<text x="463.98" y="319.00" font-size="7.5" text-anchor="middle" fill="#1a1a1a" stroke="#1a1a1a" >18</text>
<line x1="479.20" y1="308.30" x2="479.20" y2="310.50" stroke="#1a1a1a" stroke-width="0.8"/>
<text x="479.20" y="319.00" font-size="7.5" text-anchor="middle" fill="#1a1a1a" stroke="#1a1a1a" >20</text>
<rect x="489.52" y="307.71" width="4.30" height="0.59" fill="#ababab"/>
<line x1="494.42" y1="308.30" x2="494.42" y2="310.50" stroke="#1a1a1a" stroke-width="0.8"/>
<text x="494.42" y="319.00" font-size="7.5" text-anchor="middle" fill="#1a1a1a" stroke="#1a1a1a" >22</text>
<rect x="510.54" y="307.71" width="4.30" height="0.59" fill="#7b3a93"/>
<line x1="509.64" y1="308.30" x2="509.64" y2="310.50" stroke="#1a1a1a" stroke-width="0.8"/>
<text x="509.64" y="319.00" font-size="7.5" text-anchor="middle" fill="#1a1a1a" stroke="#1a1a1a" >24</text>
<text x="410.35" y="333.30" font-size="8.9" text-anchor="middle" fill="#1a1a1a" stroke="#1a1a1a" >Dynein run length (µm)</text>
<text x="298.50" y="258.50" font-size="8.9" text-anchor="middle" fill="#1a1a1a" stroke="#1a1a1a" transform="rotate(-90 298.5 258.5)">Relative frequency (%)</text>
<text x="367.70" y="216.50" font-size="7.6" text-anchor="start" fill="#767676" stroke="#767676" >Mean = 2.43 ± 0.22 µm</text>
<text x="367.70" y="225.70" font-size="7.6" text-anchor="start" fill="#767676" stroke="#767676" >N = 179 complexes</text>
<text x="367.70" y="242.70" font-size="7.6" text-anchor="start" fill="#80409a" stroke="#80409a" >Mean = 1.92 ± 0.14 µm</text>
<text x="367.70" y="251.90" font-size="7.6" text-anchor="start" fill="#80409a" stroke="#80409a" >N = 253 complexes</text>
<text x="452.90" y="242.70" font-size="7.6" text-anchor="start" fill="#1a1a1a" stroke="#1a1a1a" >ns</text>
<rect x="477.50" y="211.40" width="10.20" height="4.60" fill="#ababab"/>
<rect x="477.50" y="221.50" width="10.20" height="5.00" fill="#7b3a93"/>
<text x="492.90" y="215.90" font-size="7.6" text-anchor="start" fill="#1a1a1a" stroke="#1a1a1a" >WT</text>
<text x="492.90" y="226.70" font-size="7.6" text-anchor="start" fill="#1a1a1a" stroke="#1a1a1a" >S3386C</text>
<text x="-0.10" y="366.70" font-size="12" text-anchor="start" fill="#1a1a1a" stroke="#1a1a1a" >E</text>
<text x="129.90" y="413.90" font-size="8.8" text-anchor="end" fill="#1a1a1a" stroke="#1a1a1a" font-style="italic">H. sapiens</text>
<text x="128.60" y="424.80" font-size="8.7" text-anchor="end" fill="#1a1a1a" stroke="#1a1a1a" >DYNC1H1</text>
<text x="196.60" y="362.40" font-size="8.3" text-anchor="middle" fill="#1a1a1a" stroke="#1a1a1a" >WT</text>
<text x="323.00" y="362.40" font-size="8.3" text-anchor="middle" fill="#1a1a1a" stroke="#1a1a1a" >S3386C</text>
<text x="207.50" y="480.80" font-size="8.8" text-anchor="start" fill="#1a1a1a" stroke="#1a1a1a" >Hydrogen bond</text>
<text x="207.50" y="490.90" font-size="8.8" text-anchor="start" fill="#1a1a1a" stroke="#1a1a1a" >Hydrophobic interaction</text>
<circle cx="278.7" cy="478.4" r="3.7" fill="#7cc2ee" stroke="#444" stroke-width="0.6"/>
<circle cx="309.0" cy="489.3" r="3.7" fill="#f0b431" stroke="#444" stroke-width="0.6"/>
<g transform="translate(0,0)">
<g clip-path="url(#ebox)"><path d="M228.2,369 L242.4,368.3 L247.4,372.1 L244.4,374.1 L237.3,380.2 L234.3,385.2 L230.2,374.1 Z" fill="#e8d9ec" stroke="#8c8c8c" stroke-width="0.6" stroke-linejoin="round"/>
<path d="M237.3,380.2 L247.4,372.1 L253,379 L253,388.8 L240.4,388.8 L235.3,386.2 Z" fill="#cdbad8" stroke="#8c8c8c" stroke-width="0.6" stroke-linejoin="round"/>
<path d="M214,370.6 L228.2,369.5 L230.2,374.1 L233.3,385.2 L230.2,386.2 L224.2,383.2 Z" fill="#e2efef" stroke="#8c8c8c" stroke-width="0.6" stroke-linejoin="round"/>
<path d="M157.3,370.1 C152,372 147,375 145.5,379 C144.5,384 147,388 151.5,390.8" fill="none" stroke="#a0a0a0" stroke-width="4.300000000000001" stroke-linecap="round" stroke-linejoin="round"/>
<path d="M157.3,370.1 C152,372 147,375 145.5,379 C144.5,384 147,388 151.5,390.8" fill="none" stroke="#e4e4e4" stroke-width="3.2" stroke-linecap="round" stroke-linejoin="round"/>
<path d="M146,369.5 C150,370.5 156,370.5 160,369.5" fill="none" stroke="#a0a0a0" stroke-width="3.7" stroke-linecap="round" stroke-linejoin="round"/>
<path d="M146,369.5 C150,370.5 156,370.5 160,369.5" fill="none" stroke="#e4e4e4" stroke-width="2.6" stroke-linecap="round" stroke-linejoin="round"/>
<path d="M176.5,369.8 C178.5,370.6 181,370.6 183,369.8" fill="none" stroke="#a0a0a0" stroke-width="3.5" stroke-linecap="round" stroke-linejoin="round"/>
<path d="M176.5,369.8 C178.5,370.6 181,370.6 183,369.8" fill="none" stroke="#e4e4e4" stroke-width="2.4" stroke-linecap="round" stroke-linejoin="round"/>
<path d="M163,374 C164.5,376.5 167,377.5 169,377" fill="none" stroke="#a0a0a0" stroke-width="4.300000000000001" stroke-linecap="round" stroke-linejoin="round"/>
<path d="M163,374 C164.5,376.5 167,377.5 169,377" fill="none" stroke="#fafafa" stroke-width="3.2" stroke-linecap="round" stroke-linejoin="round"/>
<path d="M222.1,397.6 C228,396.8 233,395.8 236.2,392.8 C238.2,390.8 239,389 239,387.5" fill="none" stroke="#9a9a9a" stroke-width="4.9" stroke-linecap="round" stroke-linejoin="round"/>
<path d="M222.1,397.6 C228,396.8 233,395.8 236.2,392.8 C238.2,390.8 239,389 239,387.5" fill="none" stroke="#d9d9d9" stroke-width="3.8" stroke-linecap="round" stroke-linejoin="round"/>
<path d="M251,399 C247,402 246,408 247,415 C247.5,420 248,425 248.4,428" fill="none" stroke="#a8a8a8" stroke-width="4.1" stroke-linecap="round" stroke-linejoin="round"/>
<path d="M251,399 C247,402 246,408 247,415 C247.5,420 248,425 248.4,428" fill="none" stroke="#fafafa" stroke-width="3.0" stroke-linecap="round" stroke-linejoin="round"/>
<path d="M181.8,440.2 C188,441.5 196,442 200.6,443.6 C204,446 204,451 205.5,455 C208,459 212,460 219.5,460 C224,462 232,463 247,463" fill="none" stroke="#a0a0a0" stroke-width="4.300000000000001" stroke-linecap="round" stroke-linejoin="round"/>
<path d="M181.8,440.2 C188,441.5 196,442 200.6,443.6 C204,446 204,451 205.5,455 C208,459 212,460 219.5,460 C224,462 232,463 247,463" fill="none" stroke="#ececec" stroke-width="3.2" stroke-linecap="round" stroke-linejoin="round"/>
<path d="M187.8,398.2 L196.3,390.9 L199,395 L198.1,404.3 L189,407.9 Z" fill="#d9e8ea" stroke="#8c8c8c" stroke-width="0.6" stroke-linejoin="round"/>
<path d="M186.6,409.1 L198.7,410.3 L207.2,414 L202.3,421.3 L185.3,421.3 L182.9,415.2 Z" fill="#dde9eb" stroke="#8c8c8c" stroke-width="0.6" stroke-linejoin="round"/>
<path d="M209.6,394.6 L220.5,390.9 L223,395.8 L218.1,400.6 L211,400 Z" fill="#e3f0f1" stroke="#8c8c8c" stroke-width="0.6" stroke-linejoin="round"/>
<path d="M177,421 L189,422.5 L193,427 L186,431 L178,430 Z" fill="#e8f2f2" stroke="#8c8c8c" stroke-width="0.6" stroke-linejoin="round"/>
<path d="M220.3,425.5 L226.3,422.5 C229,425 231,427.5 233.8,428.5 L239.8,430 L241.3,431.5 L230,431.8 L221,430.8 C219.5,429 219.5,427 220.3,425.5 Z" fill="#c6ddca" stroke="#98ac9c" stroke-width="0.6" stroke-linejoin="round"/>
<path d="M231.5,415 C232.5,410 236,407.8 239,407.5 L245,409 C247,412 248,416 248,418.8 L249.5,428.5 C246,430 243,430.5 240.5,430 C238,429.5 236,428.5 235.3,427 C233,425 232,423.5 232.3,422.5 C231.5,420 231.2,417 231.5,415 Z" fill="#c6ddca" stroke="#98ac9c" stroke-width="0.6" stroke-linejoin="round"/>
<path d="M242,409.8 C243.5,414 243.5,418 243.5,421 C244.5,423 246.5,424.5 248,425.5" fill="none" stroke="#a9bfae" stroke-width="1.6"/>
<ellipse cx="244.5" cy="449" rx="12" ry="14.5" fill="#dcd0ea" stroke="#9a94a3" stroke-width="0.7"/>
<ellipse cx="234" cy="451.5" rx="10.5" ry="13" fill="#dfd3ec" stroke="#9a94a3" stroke-width="0.7"/>
<path d="M233.8,440 C238,438 243,438 246,441 L244,452 C241,458 238,462 241,463.8 C236,463 233,458 233,452 Z" fill="#dfd3ec" stroke="none"/>
<ellipse cx="232" cy="452" rx="2.6" ry="6.5" transform="rotate(-12 232 452)" fill="#fff" stroke="#9a94a3" stroke-width="0.7"/>
<ellipse cx="246" cy="446.5" rx="3.2" ry="8" transform="rotate(-22 246 446.5)" fill="#c7bbd6" stroke="#9a94a3" stroke-width="0.7"/>
<path d="M243.5,440 C247,442 249.5,447 249.8,452" fill="none" stroke="#fff" stroke-width="1.6"/>
<path d="M160.1,402 L179.4,400.5 L178.4,405.1 L166.2,413.2 L162,412 Z" fill="url(#hb)" stroke="#1e1e1e" stroke-width="1.0" stroke-linejoin="round"/>
<path d="M172.8,433.9 L178.4,431.4 L188.5,432.4 L188.5,438 L178.4,438.5 L178.4,442.5 Z" fill="url(#hb)" stroke="#1e1e1e" stroke-width="1.0" stroke-linejoin="round"/>
<path d="M170.1,375.6 Q175.5,377 177,381.7 L177.4,387.4 Q176.8,390.5 175.4,391.4 L162,400.5 L160.1,402 L163,412.5 Q156,411 153.5,407 Q150,401 150.5,393 Q151,390 153,388.5 L167.7,376.5 Z" fill="#f4d1a3" stroke="#1e1e1e" stroke-width="1.0" stroke-linejoin="round"/>
<path d="M179.4,400.5 Q183,402 184,404 L187.5,413.2 Q188,416 187,418.2 L178.4,428.4 L172.8,433.9 L172.5,436 L178.4,442.5 Q170,441 166,434 Q162.5,428 162.7,425.3 Q163,422 164.2,421.3 L178.4,405.1 Z" fill="#f4d1a3" stroke="#1e1e1e" stroke-width="1.0" stroke-linejoin="round"/>
<text x="164.8" y="393.2" font-size="11.5" fill="#dfbf8c" text-anchor="middle" transform="rotate(-38 164.8 389)">H6</text>
<path d="M194.6,369 L203.2,368.5 L218.4,375.1 L206.2,380.2 L199.1,382.2 L196.1,376.1 Z" fill="#8f4247" stroke="#1e1e1e" stroke-width="1.0" stroke-linejoin="round"/>
<path d="M199.1,382.2 L208.2,378.1 L218.4,375.1 L222.4,377.1 L223.4,384.2 L221.4,390.3 L215.5,393.6 L206.4,397.2 L200.8,401.2 L199.8,405.3 L202.3,409.3 L206.4,413.4 L201.3,411.3 L197.8,409.3 L195.2,404.3 L194.7,394.1 L196.3,386 Z" fill="#d6716d" stroke="#1e1e1e" stroke-width="1.0" stroke-linejoin="round"/>
<path d="M200.8,401.2 L206.4,397.7 L210.4,399.2 L213,402 L215.5,405.5 L209.4,410.3 L206.4,413.4 L202.3,409.3 L199.8,405.3 Z" fill="#a04c50" stroke="#1e1e1e" stroke-width="1.0" stroke-linejoin="round"/>
<text x="210.5" y="391.5" font-size="10.5" fill="#c26060" text-anchor="middle" transform="rotate(-30 210.5 387.5)">CC2</text>
<path d="M194.5,432 C205,428 214,423 221.5,418.5 C226.5,415 225,410 218,406.5" fill="none" stroke="#111" stroke-width="5.0" stroke-linecap="round"/>
<path d="M194.5,432 C205,428 214,423 221.5,418.5 C226.5,415 225,410 218,406.5" fill="none" stroke="#f2f2f2" stroke-width="3.2" stroke-linecap="round"/>
<circle cx="171.5" cy="408.1" r="1.1" fill="#8aa9b8"/>
<circle cx="209.8" cy="407" r="1.1" fill="#8aa9b8"/></g>
<rect x="141.9" y="368.6" width="109.4" height="99.8" rx="10" fill="none" stroke="#262626" stroke-width="1.25"/>
</g>
<g transform="translate(123.4,0)">
<g clip-path="url(#ebox)"><path d="M228.2,369 L242.4,368.3 L247.4,372.1 L244.4,374.1 L237.3,380.2 L234.3,385.2 L230.2,374.1 Z" fill="#e8d9ec" stroke="#8c8c8c" stroke-width="0.6" stroke-linejoin="round"/>
<path d="M237.3,380.2 L247.4,372.1 L253,379 L253,388.8 L240.4,388.8 L235.3,386.2 Z" fill="#cdbad8" stroke="#8c8c8c" stroke-width="0.6" stroke-linejoin="round"/>
<path d="M214,370.6 L228.2,369.5 L230.2,374.1 L233.3,385.2 L230.2,386.2 L224.2,383.2 Z" fill="#e2efef" stroke="#8c8c8c" stroke-width="0.6" stroke-linejoin="round"/>
<path d="M157.3,370.1 C152,372 147,375 145.5,379 C144.5,384 147,388 151.5,390.8" fill="none" stroke="#a0a0a0" stroke-width="4.300000000000001" stroke-linecap="round" stroke-linejoin="round"/>
<path d="M157.3,370.1 C152,372 147,375 145.5,379 C144.5,384 147,388 151.5,390.8" fill="none" stroke="#e4e4e4" stroke-width="3.2" stroke-linecap="round" stroke-linejoin="round"/>
<path d="M146,369.5 C150,370.5 156,370.5 160,369.5" fill="none" stroke="#a0a0a0" stroke-width="3.7" stroke-linecap="round" stroke-linejoin="round"/>
<path d="M146,369.5 C150,370.5 156,370.5 160,369.5" fill="none" stroke="#e4e4e4" stroke-width="2.6" stroke-linecap="round" stroke-linejoin="round"/>
<path d="M176.5,369.8 C178.5,370.6 181,370.6 183,369.8" fill="none" stroke="#a0a0a0" stroke-width="3.5" stroke-linecap="round" stroke-linejoin="round"/>
<path d="M176.5,369.8 C178.5,370.6 181,370.6 183,369.8" fill="none" stroke="#e4e4e4" stroke-width="2.4" stroke-linecap="round" stroke-linejoin="round"/>
<path d="M163,374 C164.5,376.5 167,377.5 169,377" fill="none" stroke="#a0a0a0" stroke-width="4.300000000000001" stroke-linecap="round" stroke-linejoin="round"/>
<path d="M163,374 C164.5,376.5 167,377.5 169,377" fill="none" stroke="#fafafa" stroke-width="3.2" stroke-linecap="round" stroke-linejoin="round"/>
<path d="M222.1,397.6 C228,396.8 233,395.8 236.2,392.8 C238.2,390.8 239,389 239,387.5" fill="none" stroke="#9a9a9a" stroke-width="4.9" stroke-linecap="round" stroke-linejoin="round"/>
<path d="M222.1,397.6 C228,396.8 233,395.8 236.2,392.8 C238.2,390.8 239,389 239,387.5" fill="none" stroke="#d9d9d9" stroke-width="3.8" stroke-linecap="round" stroke-linejoin="round"/>
<path d="M251,399 C247,402 246,408 247,415 C247.5,420 248,425 248.4,428" fill="none" stroke="#a8a8a8" stroke-width="4.1" stroke-linecap="round" stroke-linejoin="round"/>
<path d="M251,399 C247,402 246,408 247,415 C247.5,420 248,425 248.4,428" fill="none" stroke="#fafafa" stroke-width="3.0" stroke-linecap="round" stroke-linejoin="round"/>
<path d="M181.8,440.2 C188,441.5 196,442 200.6,443.6 C204,446 204,451 205.5,455 C208,459 212,460 219.5,460 C224,462 232,463 247,463" fill="none" stroke="#a0a0a0" stroke-width="4.300000000000001" stroke-linecap="round" stroke-linejoin="round"/>
<path d="M181.8,440.2 C188,441.5 196,442 200.6,443.6 C204,446 204,451 205.5,455 C208,459 212,460 219.5,460 C224,462 232,463 247,463" fill="none" stroke="#ececec" stroke-width="3.2" stroke-linecap="round" stroke-linejoin="round"/>
<path d="M187.8,398.2 L196.3,390.9 L199,395 L198.1,404.3 L189,407.9 Z" fill="#d9e8ea" stroke="#8c8c8c" stroke-width="0.6" stroke-linejoin="round"/>
<path d="M186.6,409.1 L198.7,410.3 L207.2,414 L202.3,421.3 L185.3,421.3 L182.9,415.2 Z" fill="#dde9eb" stroke="#8c8c8c" stroke-width="0.6" stroke-linejoin="round"/>
<path d="M209.6,394.6 L220.5,390.9 L223,395.8 L218.1,400.6 L211,400 Z" fill="#e3f0f1" stroke="#8c8c8c" stroke-width="0.6" stroke-linejoin="round"/>
<path d="M177,421 L189,422.5 L193,427 L186,431 L178,430 Z" fill="#e8f2f2" stroke="#8c8c8c" stroke-width="0.6" stroke-linejoin="round"/>
<path d="M220.3,425.5 L226.3,422.5 C229,425 231,427.5 233.8,428.5 L239.8,430 L241.3,431.5 L230,431.8 L221,430.8 C219.5,429 219.5,427 220.3,425.5 Z" fill="#c6ddca" stroke="#98ac9c" stroke-width="0.6" stroke-linejoin="round"/>
<path d="M231.5,415 C232.5,410 236,407.8 239,407.5 L245,409 C247,412 248,416 248,418.8 L249.5,428.5 C246,430 243,430.5 240.5,430 C238,429.5 236,428.5 235.3,427 C233,425 232,423.5 232.3,422.5 C231.5,420 231.2,417 231.5,415 Z" fill="#c6ddca" stroke="#98ac9c" stroke-width="0.6" stroke-linejoin="round"/>
<path d="M242,409.8 C243.5,414 243.5,418 243.5,421 C244.5,423 246.5,424.5 248,425.5" fill="none" stroke="#a9bfae" stroke-width="1.6"/>
<ellipse cx="244.5" cy="449" rx="12" ry="14.5" fill="#dcd0ea" stroke="#9a94a3" stroke-width="0.7"/>
<ellipse cx="234" cy="451.5" rx="10.5" ry="13" fill="#dfd3ec" stroke="#9a94a3" stroke-width="0.7"/>
<path d="M233.8,440 C238,438 243,438 246,441 L244,452 C241,458 238,462 241,463.8 C236,463 233,458 233,452 Z" fill="#dfd3ec" stroke="none"/>
<ellipse cx="232" cy="452" rx="2.6" ry="6.5" transform="rotate(-12 232 452)" fill="#fff" stroke="#9a94a3" stroke-width="0.7"/>
<ellipse cx="246" cy="446.5" rx="3.2" ry="8" transform="rotate(-22 246 446.5)" fill="#c7bbd6" stroke="#9a94a3" stroke-width="0.7"/>
<path d="M243.5,440 C247,442 249.5,447 249.8,452" fill="none" stroke="#fff" stroke-width="1.6"/>
<path d="M160.1,402 L179.4,400.5 L178.4,405.1 L166.2,413.2 L162,412 Z" fill="url(#hb)" stroke="#1e1e1e" stroke-width="1.0" stroke-linejoin="round"/>
<path d="M172.8,433.9 L178.4,431.4 L188.5,432.4 L188.5,438 L178.4,438.5 L178.4,442.5 Z" fill="url(#hb)" stroke="#1e1e1e" stroke-width="1.0" stroke-linejoin="round"/>
<path d="M170.1,375.6 Q175.5,377 177,381.7 L177.4,387.4 Q176.8,390.5 175.4,391.4 L162,400.5 L160.1,402 L163,412.5 Q156,411 153.5,407 Q150,401 150.5,393 Q151,390 153,388.5 L167.7,376.5 Z" fill="#f4d1a3" stroke="#1e1e1e" stroke-width="1.0" stroke-linejoin="round"/>
<path d="M179.4,400.5 Q183,402 184,404 L187.5,413.2 Q188,416 187,418.2 L178.4,428.4 L172.8,433.9 L172.5,436 L178.4,442.5 Q170,441 166,434 Q162.5,428 162.7,425.3 Q163,422 164.2,421.3 L178.4,405.1 Z" fill="#f4d1a3" stroke="#1e1e1e" stroke-width="1.0" stroke-linejoin="round"/>
<text x="164.8" y="393.2" font-size="11.5" fill="#dfbf8c" text-anchor="middle" transform="rotate(-38 164.8 389)">H6</text>
<path d="M194.6,369 L203.2,368.5 L218.4,375.1 L206.2,380.2 L199.1,382.2 L196.1,376.1 Z" fill="#8f4247" stroke="#1e1e1e" stroke-width="1.0" stroke-linejoin="round"/>
<path d="M199.1,382.2 L208.2,378.1 L218.4,375.1 L222.4,377.1 L223.4,384.2 L221.4,390.3 L215.5,393.6 L206.4,397.2 L200.8,401.2 L199.8,405.3 L202.3,409.3 L206.4,413.4 L201.3,411.3 L197.8,409.3 L195.2,404.3 L194.7,394.1 L196.3,386 Z" fill="#d6716d" stroke="#1e1e1e" stroke-width="1.0" stroke-linejoin="round"/>
<path d="M200.8,401.2 L206.4,397.7 L210.4,399.2 L213,402 L215.5,405.5 L209.4,410.3 L206.4,413.4 L202.3,409.3 L199.8,405.3 Z" fill="#a04c50" stroke="#1e1e1e" stroke-width="1.0" stroke-linejoin="round"/>
<text x="210.5" y="391.5" font-size="10.5" fill="#c26060" text-anchor="middle" transform="rotate(-30 210.5 387.5)">CC2</text>
<path d="M194.5,432 C205,428 214,423 221.5,418.5 C226.5,415 225,410 218,406.5" fill="none" stroke="#111" stroke-width="5.0" stroke-linecap="round"/>
<path d="M194.5,432 C205,428 214,423 221.5,418.5 C226.5,415 225,410 218,406.5" fill="none" stroke="#f2f2f2" stroke-width="3.2" stroke-linecap="round"/>
<circle cx="171.5" cy="408.1" r="1.1" fill="#8aa9b8"/>
<circle cx="209.8" cy="407" r="1.1" fill="#8aa9b8"/></g>
<rect x="141.9" y="368.6" width="109.4" height="99.8" rx="10" fill="none" stroke="#262626" stroke-width="1.25"/>
</g>
<circle cx="163.7" cy="407.6" r="5.0" fill="#7cc2ee" stroke="#222" stroke-width="0.8"/>
<text x="163.7" y="410.26" font-size="7.4" text-anchor="middle" fill="#222" >V</text>
<circle cx="217.4" cy="406.0" r="5.0" fill="#7cc2ee" stroke="#222" stroke-width="0.8"/>
<text x="217.4" y="408.66" font-size="7.4" text-anchor="middle" fill="#222" >C</text>
<circle cx="194.3" cy="432.3" r="6.3" fill="#a21c1c" stroke="#222" stroke-width="1.1"/>
<text x="194.3" y="435.40" font-size="8.6" text-anchor="middle" fill="#fff" font-weight="bold">S</text>
<circle cx="287.3" cy="408.0" r="5.0" fill="#7cc2ee" stroke="#222" stroke-width="0.8"/>
<text x="287.3" y="410.66" font-size="7.4" text-anchor="middle" fill="#222" >V</text>
<circle cx="340.9" cy="405.9" r="5.0" fill="#7cc2ee" stroke="#222" stroke-width="0.8"/>
<text x="340.9" y="408.56" font-size="7.4" text-anchor="middle" fill="#222" >C</text>
<circle cx="318.5" cy="420.4" r="1.0" fill="#f1b432"/>
<circle cx="344.7" cy="418.1" r="1.0" fill="#f1b432"/>
<circle cx="302.5" cy="435.6" r="1.0" fill="#f1b432"/>
<circle cx="308.4" cy="440.6" r="1.0" fill="#f1b432"/>
<circle cx="351.2" cy="444.5" r="1.0" fill="#f1b432"/>
<circle cx="344.2" cy="459.3" r="1.0" fill="#f1b432"/>
<circle cx="318.5" cy="414.2" r="4.3" fill="#f1b432" stroke="#222" stroke-width="0.8"/>
<text x="318.5" y="416.58" font-size="6.6" text-anchor="middle" fill="#222" >V</text>
<circle cx="337.3" cy="417.8" r="4.9" fill="#f1b432" stroke="#222" stroke-width="0.8"/>
<text x="337.3" y="420.39" font-size="7.2" text-anchor="middle" fill="#222" >A</text>
<circle cx="294.9" cy="435.0" r="5.0" fill="#f1b432" stroke="#222" stroke-width="0.8"/>
<text x="294.9" y="437.59" font-size="7.2" text-anchor="middle" fill="#222" >A</text>
<circle cx="308.4" cy="446.9" r="4.2" fill="#f1b432" stroke="#222" stroke-width="0.8"/>
<text x="308.4" y="449.28" font-size="6.6" text-anchor="middle" fill="#222" >P</text>
<circle cx="351.2" cy="438.1" r="4.9" fill="#f1b432" stroke="#222" stroke-width="0.8"/>
<text x="351.2" y="440.69" font-size="7.2" text-anchor="middle" fill="#222" >V</text>
<circle cx="344.2" cy="451.9" r="4.9" fill="#f1b432" stroke="#222" stroke-width="0.8"/>
<text x="344.2" y="454.35" font-size="6.8" text-anchor="middle" fill="#222" >M</text>
<circle cx="317.6" cy="432.3" r="6.4" fill="#a21c1c" stroke="#222" stroke-width="1.1"/>
<text x="317.6" y="435.40" font-size="8.6" text-anchor="middle" fill="#fff" font-weight="bold">C</text>
</svg></body></html>
